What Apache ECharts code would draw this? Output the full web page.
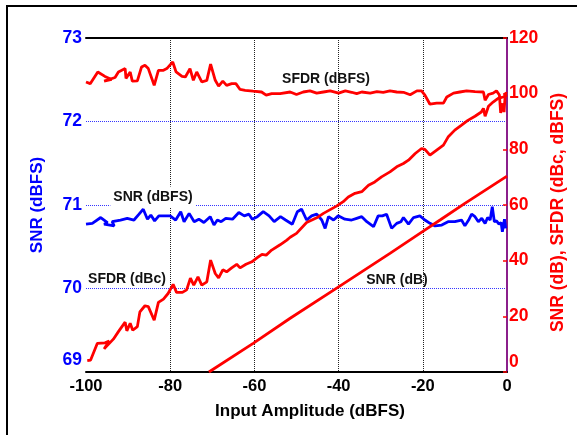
<!DOCTYPE html>
<html>
<head>
<meta charset="utf-8">
<script src="https://cdn.jsdelivr.net/npm/echarts@6/dist/echarts.min.js"></script>
<style>html,body{margin:0;padding:0;background:#fff;}#c{width:577px;height:435px;}</style>
</head>
<body>
<div id="c"></div>
<script>
// X axis (Input Amplitude, dBFS) ticks
const xTicks = [-100, -80, -60, -40, -20, 0];
// Left axis ticks (SNR dBFS)
const leftTicks = [69, 70, 71, 72, 73];
// Right axis ticks (SNR dB, SFDR dBc/dBFS)
const rightTicks = [0, 20, 40, 60, 80, 100, 120];

// SNR (dBFS) – blue, left axis  [input, value]
const snrDbfs = [[-100,70.77],[-98.5,70.78],[-96.5,70.85],[-94.9,70.79],[-95.7,70.77],[-93.3,70.75],[-93.8,70.80],[-91.8,70.82],[-90.2,70.84],[-88.6,70.82],[-87.4,70.89],[-86.4,70.95],[-85.4,70.83],[-84.6,70.88],[-83.7,70.81],[-82.7,70.87],[-81.5,70.87],[-80.0,70.87],[-78.7,70.82],[-77.5,70.92],[-76.7,70.80],[-75.5,70.90],[-74.3,70.80],[-73.2,70.83],[-72.0,70.79],[-70.5,70.86],[-69.6,70.76],[-68.8,70.82],[-67.9,70.80],[-66.8,70.84],[-65.2,70.83],[-63.7,70.91],[-62.4,70.87],[-61.3,70.89],[-60.5,70.83],[-59.3,70.86],[-57.9,70.92],[-56.5,70.87],[-55.3,70.80],[-53.8,70.86],[-52.6,70.82],[-51.0,70.77],[-49.8,70.92],[-48.8,70.95],[-47.6,70.82],[-46.4,70.87],[-45.2,70.89],[-44.0,70.82],[-43.2,70.72],[-42.4,70.86],[-41.2,70.82],[-40.1,70.87],[-38.5,70.83],[-36.9,70.82],[-35.7,70.84],[-34.5,70.86],[-33.3,70.80],[-31.7,70.74],[-30.6,70.87],[-29.6,70.87],[-28.6,70.89],[-27.4,70.72],[-26.2,70.78],[-25.2,70.80],[-24.6,70.85],[-23.4,70.77],[-22.2,70.85],[-20.7,70.87],[-19.5,70.82],[-18.3,70.78],[-17.1,70.75],[-15.5,70.76],[-14.0,70.80],[-12.4,70.80],[-10.8,70.82],[-10.0,70.75],[-9.0,70.83],[-8.4,70.89],[-7.6,70.86],[-6.8,70.80],[-6.0,70.84],[-5.2,70.78],[-4.6,70.85],[-4.0,70.82],[-3.5,70.98],[-3.0,70.80],[-2.5,70.81],[-1.9,70.77],[-1.4,70.79],[-1.1,70.68],[-0.6,70.83],[-0.3,70.72]];

// SFDR (dBFS) – red, right axis
const sfdrDbfs = [[-100,104.2],[-99.0,103.6],[-97.2,107.8],[-95.5,106.2],[-93.9,105.1],[-95.7,104.5],[-93.1,105.8],[-92.3,107.8],[-90.7,109.0],[-90.5,105.5],[-89.5,107.8],[-89.0,104.5],[-87.8,104.6],[-86.8,109.6],[-86.0,110.2],[-85.2,109.0],[-83.8,103.0],[-82.8,108.4],[-81.6,108.4],[-80.8,109.0],[-79.4,111.4],[-78.6,107.8],[-77.2,106.2],[-76.4,106.0],[-75.3,109.0],[-74.5,104.8],[-73.7,107.8],[-72.5,104.2],[-71.3,104.8],[-70.4,110.6],[-69.3,104.8],[-68.5,102.7],[-67.5,104.5],[-66.6,103.0],[-65.4,103.6],[-64.4,103.6],[-63.4,101.5],[-62.2,101.2],[-60.3,100.9],[-58.3,100.6],[-57.2,99.5],[-55.9,100.0],[-53.9,100.0],[-51.5,100.6],[-50.0,99.7],[-48.4,100.6],[-46.8,101.0],[-45.2,100.2],[-43.6,100.6],[-42.0,101.0],[-40.0,100.2],[-38.4,101.0],[-36.9,100.5],[-35.7,100.0],[-34.5,100.6],[-32.5,100.2],[-30.9,100.7],[-29.4,100.5],[-27.8,101.0],[-26.2,100.6],[-24.6,100.5],[-23.0,99.6],[-21.4,101.0],[-20.3,101.0],[-19.5,99.5],[-18.3,96.2],[-16.7,96.6],[-15.1,96.6],[-14.3,98.8],[-12.7,100.2],[-11.2,100.6],[-9.6,101.0],[-7.6,100.7],[-5.6,100.6],[-5.2,97.6],[-4.4,99.7],[-3.3,100.2],[-2.5,101.0],[-1.8,99.5],[-1.5,93.1],[-1.0,96.5],[-0.7,93.4],[-0.4,100.2],[0,100.0]];

// SFDR (dBc) – red, right axis
const sfdrDbc = [[-99.7,4.1],[-98.9,4.3],[-97.3,10.3],[-95.5,10.5],[-94.5,11.1],[-95.7,8.3],[-93.5,11.8],[-92.3,14.5],[-90.7,17.9],[-90.3,14.8],[-89.5,17.5],[-88.9,15.0],[-87.8,16.3],[-87.2,21.6],[-86.0,23.8],[-85.2,23.5],[-83.8,18.6],[-82.8,25.0],[-81.6,26.2],[-80.5,28.2],[-79.3,31.5],[-78.5,28.6],[-77.1,28.6],[-76.1,29.5],[-75.2,33.7],[-74.4,31.2],[-73.4,34.2],[-72.5,31.2],[-71.3,32.4],[-70.4,40.2],[-69.3,35.4],[-68.5,33.8],[-67.5,36.7],[-66.6,36.0],[-65.4,37.4],[-64.2,38.7],[-63.4,37.4],[-62.0,38.7],[-60.6,39.6],[-59.4,41.0],[-58.2,42.3],[-57.2,42.0],[-55.9,43.8],[-53.9,45.7],[-52.3,47.4],[-51.5,48.4],[-50.0,49.8],[-47.6,53.7],[-45.2,55.4],[-43.6,57.0],[-40.5,59.6],[-38.9,61.2],[-37.7,62.9],[-36.1,64.2],[-34.5,64.8],[-32.9,67.1],[-31.4,68.3],[-29.8,70.1],[-27.8,71.9],[-26.2,73.7],[-24.6,74.9],[-23.4,76.1],[-21.8,78.5],[-20.3,80.3],[-19.5,80.0],[-18.3,77.9],[-16.7,79.7],[-15.1,81.5],[-14.0,84.4],[-12.4,86.9],[-10.8,88.7],[-9.3,90.4],[-7.6,91.9],[-6.1,93.4],[-5.6,94.7],[-5.2,91.9],[-4.4,95.5],[-3.3,97.0],[-2.1,98.3],[-0.9,98.8],[0,99.5]];

// SNR (dB) – red, right axis
const snrDb = [[-70.8,0],[-60.3,10.3],[-51.5,19.3],[-40.0,30.6],[-27.8,42.6],[-19.8,50.7],[-15.9,54.6],[-10.0,60.6],[0,70.4]];

const FONT = 'Liberation Sans, Arial, Helvetica, sans-serif';
const RED = '#ff0000', BLUE = '#0000ff';

const chart = echarts.init(document.getElementById('c'), null, {renderer: 'canvas'});
chart.setOption({
  animation: false,
  backgroundColor: '#ffffff',
  grid: {left: 86, top: 38, right: 70, bottom: 63, containLabel: false},
  xAxis: [{
    type: 'value', min: xTicks[0], max: xTicks[xTicks.length - 1], interval: 20, position: 'bottom',
    axisLine: {show: true, lineStyle: {color: '#000', width: 2}},
    axisTick: {show: false},
    axisLabel: {color: '#000', fontWeight: 'bold', fontSize: 16.5, fontFamily: FONT, margin: 6},
    splitLine: {show: true, showMinLine: false, showMaxLine: false, lineStyle: {color: '#222', type: 'dotted', width: 1}},
    name: 'Input Amplitude (dBFS)', nameLocation: 'middle', nameGap: 31,
    nameTextStyle: {color: '#000', fontWeight: 'bold', fontSize: 17, fontFamily: FONT, padding: [0, 0, 0, 27]}
  }, {
    type: 'value', min: xTicks[0], max: xTicks[xTicks.length - 1], position: 'top',
    axisLine: {show: true, onZero: false, lineStyle: {color: '#000', width: 2}},
    axisTick: {show: false}, axisLabel: {show: false}, splitLine: {show: false}
  }],
  yAxis: [{
    type: 'value', min: leftTicks[0], max: leftTicks[leftTicks.length - 1], interval: 1, position: 'left',
    axisLine: {show: true, lineStyle: {color: BLUE, width: 1.5}},
    axisTick: {show: false},
    axisLabel: {
      margin: 4,
      formatter: v => (v === leftTicks[0] ? '{lo|' + v + '}' : '{n|' + v + '}'),
      rich: {
        n: {color: BLUE, fontWeight: 'bold', fontSize: 17.5, fontFamily: FONT},
        lo: {color: BLUE, fontWeight: 'bold', fontSize: 17.5, fontFamily: FONT, padding: [0, 0, 24, 0]}
      }
    },
    splitLine: {show: true, showMinLine: false, showMaxLine: false, lineStyle: {color: '#3535ff', type: 'dotted', width: 1}},
    name: 'SNR (dBFS)', nameLocation: 'middle', nameRotate: 90, nameGap: 40,
    nameTextStyle: {color: BLUE, fontWeight: 'bold', fontSize: 17, fontFamily: FONT}
  }, {
    type: 'value', min: rightTicks[0], max: rightTicks[rightTicks.length - 1], interval: 20, position: 'right',
    axisLine: {show: true, lineStyle: {color: '#8b1f8b', width: 2}},
    axisTick: {show: true, inside: true, length: 4, lineStyle: {color: RED, width: 1.5}},
    axisLabel: {
      margin: 2,
      formatter: v => (v === rightTicks[0] ? '{lo|' + v + '}' : '{n|' + v + '}'),
      rich: {
        n: {color: RED, fontWeight: 'bold', fontSize: 17.5, fontFamily: FONT},
        lo: {color: RED, fontWeight: 'bold', fontSize: 17.5, fontFamily: FONT, padding: [0, 0, 20, 0]}
      }
    },
    splitLine: {show: false},
    name: 'SNR (dB), SFDR (dBc, dBFS)', nameLocation: 'middle', nameRotate: 90, nameGap: 39,
    nameTextStyle: {color: RED, fontWeight: 'bold', fontSize: 17.5, fontFamily: FONT, padding: [0, 15, 0, 0]}
  }],
  series: [
    {name: 'SNR (dBFS)', type: 'line', xAxisIndex: 0, yAxisIndex: 0, data: snrDbfs, showSymbol: false, symbol: 'none',
     lineStyle: {color: BLUE, width: 2.8}, z: 2},
    {name: 'SFDR (dBFS)', type: 'line', xAxisIndex: 0, yAxisIndex: 1, data: sfdrDbfs, showSymbol: false, symbol: 'none',
     lineStyle: {color: RED, width: 2.8}, z: 3},
    {name: 'SFDR (dBc)', type: 'line', xAxisIndex: 0, yAxisIndex: 1, data: sfdrDbc, showSymbol: false, symbol: 'none',
     lineStyle: {color: RED, width: 2.8}, z: 3},
    {name: 'SNR (dB)', type: 'line', xAxisIndex: 0, yAxisIndex: 1, data: snrDb, showSymbol: false, symbol: 'none',
     lineStyle: {color: RED, width: 2.8}, z: 3}
  ],
  graphic: [
    {type: 'rect', shape: {x: 7, y: 6, width: 640, height: 520}, style: {fill: 'none', stroke: '#000', lineWidth: 2}, silent: true, z: 0},
    {type: 'text', x: 326, y: 79, z: 10, style: {text: 'SFDR (dBFS)', font: 'bold 14px ' + FONT, fill: '#111', align: 'center', verticalAlign: 'middle'}},
    {type: 'text', x: 153, y: 197, z: 10, style: {text: 'SNR (dBFS)', font: 'bold 14px ' + FONT, fill: '#111', align: 'center', verticalAlign: 'middle', backgroundColor: '#fff', padding: [4, 3, 3, 3]}},
    {type: 'text', x: 127, y: 279, z: 10, style: {text: 'SFDR (dBc)', font: 'bold 14px ' + FONT, fill: '#111', align: 'center', verticalAlign: 'middle'}},
    {type: 'text', x: 397, y: 280, z: 10, style: {text: 'SNR (dB)', font: 'bold 14px ' + FONT, fill: '#111', align: 'center', verticalAlign: 'middle'}}
  ]
});
</script>
</body>
</html>
